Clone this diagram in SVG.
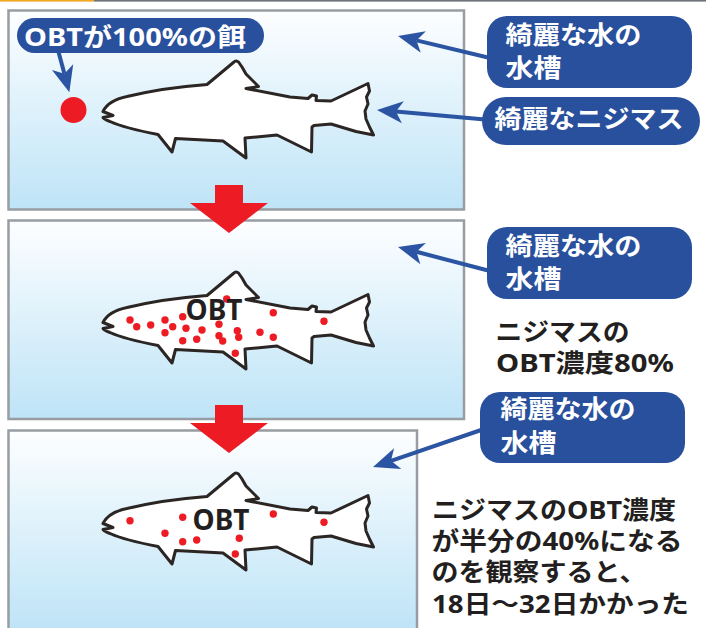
<svg xmlns="http://www.w3.org/2000/svg" xmlns:xlink="http://www.w3.org/1999/xlink" width="706" height="628" viewBox="0 0 706 628">
  <defs>
    <linearGradient id="water" x1="0" y1="0" x2="0" y2="1">
      <stop offset="0" stop-color="#fdfeff"/>
      <stop offset="1" stop-color="#bee4f7"/>
    </linearGradient>
    <marker id="head" markerUnits="userSpaceOnUse" markerWidth="28" markerHeight="24" viewBox="0 -12 28 24" refX="7" refY="0" orient="auto">
      <path d="M0,-11 L26,0 L0,11 L7,0 Z" fill="#2b54a2"/>
    </marker>
    <!-- trout outline, head pointing left -->
    <path id="trout" d="M113,115.5 L103,111.5 C107,103 115,99 127,96.5 C150,91 180,86.5 207,84.5 L234,62 C235,60.5 237,60.5 238.5,62 L242,67 L246,74 L258.5,86.5 L246,88.5 L290,97 L308,98.5 L312,95 L316.5,96 L316,100.5 L331,101 L368,83.5 L369.5,91 L366.5,97 L368,104 L365,111 L366,119 L369.5,127 L373.5,135 L356,131.5 L331,124 L314,125.5 L312,127 L311.5,152 L277,135 L245,138 L246,158 L223,141 L175.5,138.5 L172,152 L158,134.5 C140,131 120,126 110,121.5 C106,120 103,118.5 103,117.5 Z"/>
  </defs>
  <style>
    .panel { fill: url(#water); stroke: #979da3; stroke-width: 2.5; }
    .fish { fill: #ffffff; stroke: #2b2523; stroke-width: 3; stroke-linejoin: round; }
    .dot { fill: #ed1c24; }
    .down { fill: #ed1c24; }
    .callout { fill: #29509c; }
    .conn { fill: none; stroke: #2b54a2; stroke-width: 4; marker-end: url(#head); }
    text { font-family: "Noto Sans", "Noto Sans CJK JP", sans-serif; font-weight: bold; }
    .ctext { fill: #ffffff; font-size: 25px; }
    .btext { fill: #231f20; font-size: 25px; }
    .obt { fill: #231f20; font-size: 28px; }
  </style>

  <!-- header rule -->
  <rect x="0" y="0" width="94" height="1.6" fill="#f5a623"/>
  <rect x="94" y="0" width="612" height="1.6" fill="#6d7378"/>

  <!-- tanks -->
  <g id="tank1">
    <rect class="panel" x="8.5" y="10.5" width="455.5" height="199"/>
    <circle class="dot" cx="73.5" cy="110" r="13"/>
    <use xlink:href="#trout" class="fish"/>
  </g>
  <g id="tank2">
    <rect class="panel" x="8.5" y="220.5" width="455.5" height="198.5"/>
    <g transform="translate(0,211)">
      <use xlink:href="#trout" class="fish"/>
    </g>
    <g class="dot">
      <circle cx="130" cy="320" r="3.7"/>
      <circle cx="136.7" cy="326.7" r="3.7"/>
      <circle cx="150.7" cy="325" r="3.7"/>
      <circle cx="165" cy="320" r="3.7"/>
      <circle cx="172.7" cy="326.7" r="3.7"/>
      <circle cx="165" cy="332.7" r="3.7"/>
      <circle cx="182.7" cy="316.7" r="3.7"/>
      <circle cx="186" cy="328.3" r="3.7"/>
      <circle cx="182.7" cy="340.7" r="3.7"/>
      <circle cx="196.7" cy="339.3" r="3.7"/>
      <circle cx="202" cy="330" r="3.7"/>
      <circle cx="219" cy="324.3" r="3.7"/>
      <circle cx="226.7" cy="299" r="3.7"/>
      <circle cx="219" cy="335.7" r="3.7"/>
      <circle cx="222.7" cy="341" r="3.7"/>
      <circle cx="237.3" cy="330.7" r="3.7"/>
      <circle cx="238.7" cy="337.3" r="3.7"/>
      <circle cx="235.3" cy="353.3" r="3.7"/>
      <circle cx="260" cy="332.3" r="3.7"/>
      <circle cx="273.3" cy="312.7" r="3.7"/>
      <circle cx="273.3" cy="337.3" r="3.7"/>
      <circle cx="324" cy="321.3" r="3.7"/>
    </g>
    <text class="obt" x="185.5" y="320">OBT</text>
  </g>
  <g id="tank3">
    <rect class="panel" x="8.5" y="430.5" width="408.5" height="200"/>
    <g transform="translate(0,412)">
      <use xlink:href="#trout" class="fish"/>
    </g>
    <g class="dot">
      <circle cx="130" cy="520.7" r="3.7"/>
      <circle cx="182.7" cy="517.3" r="3.7"/>
      <circle cx="165" cy="533.3" r="3.7"/>
      <circle cx="182.7" cy="541.7" r="3.7"/>
      <circle cx="196.7" cy="540" r="3.7"/>
      <circle cx="239.3" cy="538.3" r="3.7"/>
      <circle cx="235.3" cy="554" r="3.7"/>
      <circle cx="273.3" cy="514" r="3.7"/>
      <circle cx="324" cy="522.3" r="3.7"/>
    </g>
    <text class="obt" x="192.5" y="530">OBT</text>
  </g>

  <!-- step arrows between tanks -->
  <g id="step1">
    <polygon class="down" points="215,185 243,185 243,203 268,203 229,233 190,203 215,203"/>
  </g>
  <g id="step2">
    <polygon class="down" points="215,405 243,405 243,423 268,423 229,453 190,423 215,423"/>
  </g>

  <!-- connectors -->
  <g id="connectors">
    <line class="conn" x1="58" y1="50" x2="64.4" y2="73.8"/>
    <line class="conn" x1="490" y1="58" x2="416.5" y2="40.4"/>
    <line class="conn" x1="485" y1="119.5" x2="395.9" y2="111.6"/>
    <line class="conn" x1="490" y1="271" x2="416.4" y2="251.8"/>
    <line class="conn" x1="484" y1="429" x2="391" y2="460.8"/>
  </g>

  <!-- labels -->
  <g id="label-feed">
    <rect class="callout" x="17" y="18" width="247" height="35" rx="17.5"/>
    <text class="ctext" x="24" y="45.5" font-size="24" textLength="222" lengthAdjust="spacingAndGlyphs">OBTが100%の餌</text>
  </g>
  <g id="label-tank1">
    <rect class="callout" x="487" y="16" width="205" height="72" rx="20"/>
    <text class="ctext" x="505.5" y="43.5" textLength="136" lengthAdjust="spacingAndGlyphs">綺麗な水の</text>
    <text class="ctext" x="505.5" y="76.5" textLength="56" lengthAdjust="spacingAndGlyphs">水槽</text>
  </g>
  <g id="label-trout">
    <rect class="callout" x="482" y="97" width="218" height="48" rx="24"/>
    <text class="ctext" x="494.5" y="128" textLength="189" lengthAdjust="spacingAndGlyphs">綺麗なニジマス</text>
  </g>
  <g id="label-tank2">
    <rect class="callout" x="487" y="227" width="205" height="72" rx="20"/>
    <text class="ctext" x="505.5" y="255" textLength="136" lengthAdjust="spacingAndGlyphs">綺麗な水の</text>
    <text class="ctext" x="505.5" y="288" textLength="56" lengthAdjust="spacingAndGlyphs">水槽</text>
  </g>
  <g id="note-80">
    <text class="btext" x="495.5" y="341" textLength="134" lengthAdjust="spacingAndGlyphs">ニジマスの</text>
    <text class="btext" x="496" y="372" textLength="178" lengthAdjust="spacingAndGlyphs">OBT濃度80%</text>
  </g>
  <g id="label-tank3">
    <rect class="callout" x="480" y="392" width="205" height="71" rx="20"/>
    <text class="ctext" x="500.5" y="417.5" textLength="135" lengthAdjust="spacingAndGlyphs">綺麗な水の</text>
    <text class="ctext" x="500.5" y="451.5" textLength="56" lengthAdjust="spacingAndGlyphs">水槽</text>
  </g>
  <g id="note-half">
    <text class="btext" x="432" y="519" textLength="244" lengthAdjust="spacingAndGlyphs">ニジマスのOBT濃度</text>
    <text class="btext" x="431.5" y="550" textLength="251" lengthAdjust="spacingAndGlyphs">が半分の40%になる</text>
    <text class="btext" x="431.5" y="581" textLength="215" lengthAdjust="spacingAndGlyphs">のを観察すると、</text>
    <text class="btext" x="432" y="613" textLength="257" lengthAdjust="spacingAndGlyphs">18日〜32日かかった</text>
  </g>
</svg>
